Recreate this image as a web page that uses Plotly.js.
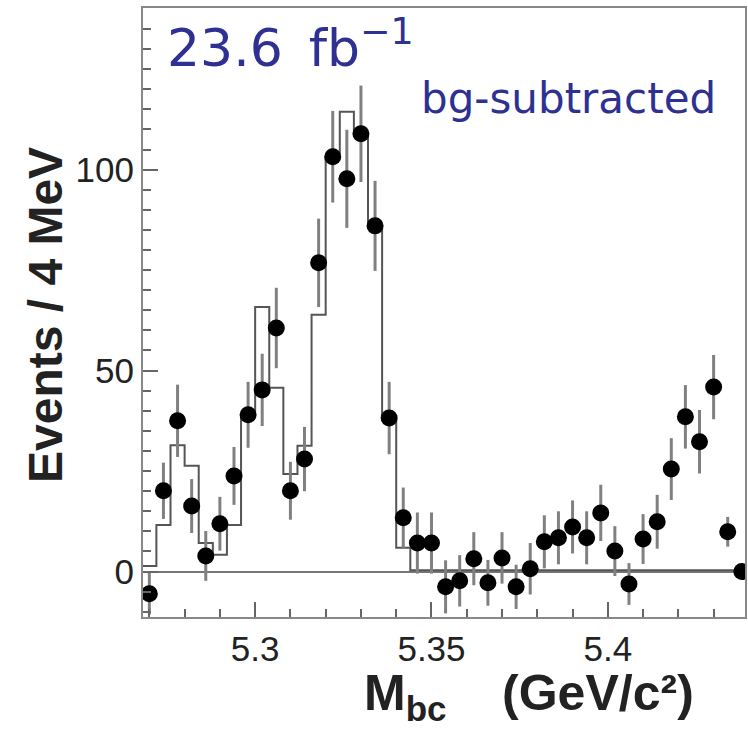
<!DOCTYPE html>
<html>
<head>
<meta charset="utf-8">
<script src="https://cdn.plot.ly/plotly-3.0.1.min.js"></script>
<style>html,body{margin:0;padding:0;background:#fff;}#chart{width:748px;height:734px;}</style>
</head>
<body>
<div id="chart"></div>
<script>
// Bin centres of M_bc (GeV/c^2), 4 MeV bins
const massCenters = [5.270, 5.274, 5.278, 5.282, 5.286, 5.290, 5.294, 5.298, 5.302, 5.306,
  5.310, 5.314, 5.318, 5.322, 5.326, 5.330, 5.334, 5.338, 5.342, 5.346,
  5.350, 5.354, 5.358, 5.362, 5.366, 5.370, 5.374, 5.378, 5.382, 5.386,
  5.390, 5.394, 5.398, 5.402, 5.406, 5.410, 5.414, 5.418, 5.422, 5.426,
  5.430, 5.434, 5.438];
const binWidth = 0.004;

// Background-subtracted data (events / 4 MeV)
const dataEvents = [-5.5, 20.1, 37.5, 16.3, 3.9, 11.9, 23.8, 39.0, 45.2, 60.6,
  20.1, 28.0, 76.8, 103.2, 97.7, 108.9, 86.0, 38.2, 13.4, 7.1,
  7.1, -3.8, -2.3, 3.2, -2.8, 3.4, -3.8, 0.7, 7.4, 8.4,
  11.1, 8.4, 14.6, 5.1, -3.1, 8.1, 12.4, 25.5, 38.5, 32.3,
  45.9, 9.9, 0.0];
const dataErrors = [5.2, 7.0, 9.0, 6.7, 6.2, 6.7, 7.2, 8.2, 9.0, 10.0,
  7.2, 8.0, 11.0, 11.4, 12.2, 12.0, 11.2, 9.0, 7.5, 7.6,
  7.6, 6.6, 6.4, 6.6, 5.7, 6.4, 5.5, 6.4, 6.6, 6.6,
  6.6, 6.6, 7.0, 6.2, 5.2, 6.2, 6.7, 7.7, 7.9, 7.9,
  8.0, 3.7, 2.0];

// Histogram (expectation)
const histValues = [1.4, 11.6, 31.4, 26.3, 7.1, 4.2, 11.6, 39.0, 65.8, 45.7,
  24.3, 31.3, 63.9, 103.2, 114.4, 108.9, 86.0, 37.7, 5.9, 0.3,
  0.3, 0.3, 0.3, 0.3, 0.3, 0.3, 0.3, 0.3, 0.3, 0.3,
  0.3, 0.3, 0.3, 0.3, 0.3, 0.3, 0.3, 0.3, 0.3, 0.3,
  0.3, 0.3, 0.3];

const xTickVals = [5.3, 5.35, 5.4];
const xTickText = ['5.3', '5.35', '5.4'];
const yTickVals = [0, 50, 100];
const yTickText = ['0', '50', '100'];

// step outline built from bin edges
const histX = massCenters.map(c => c - binWidth / 2);
histX.push(massCenters[massCenters.length - 1] + binWidth / 2);
const histY = histValues.slice();
histY.push(histValues[histValues.length - 1]);

const L = 143, R = 745, T = 8, B = 617;
const px = v => (v - L) / (R - L);
const py = v => 1 - (v - T) / (B - T);

const traces = [
  {
    x: histX, y: histY, type: 'scatter', mode: 'lines',
    line: {shape: 'hv', color: '#555', width: 2},
    hoverinfo: 'skip'
  },
  {
    x: massCenters, y: dataEvents, type: 'scatter', mode: 'markers',
    marker: {color: '#000', size: 17},
    error_y: {type: 'data', array: dataErrors, visible: true, color: '#808080', thickness: 3, width: 0}
  }
];

const tickFont = {family: 'Liberation Sans, Arial, sans-serif', size: 35, color: '#222'};
const layout = {
  width: 748, height: 734,
  margin: {l: L, r: 748 - R, t: T, b: 734 - B},
  paper_bgcolor: '#fff', plot_bgcolor: '#fff',
  showlegend: false,
  xaxis: {
    range: [5.2682, 5.4389],
    tickmode: 'array', tickvals: xTickVals, ticktext: xTickText,
    ticks: 'inside', ticklen: 15, tickwidth: 2, tickcolor: '#666',
    showline: true, linecolor: '#888', linewidth: 2, mirror: true,
    showgrid: false, zeroline: false, tickfont: tickFont,
    minor: {tickmode: 'linear', tick0: 5.27, dtick: 0.01, ticks: 'inside', ticklen: 8, tickwidth: 2, tickcolor: '#666', showgrid: false}
  },
  yaxis: {
    range: [-11.3, 140.2],
    tickmode: 'array', tickvals: yTickVals, ticktext: yTickText,
    ticks: 'inside', ticklen: 15, tickwidth: 2, tickcolor: '#666',
    showline: true, linecolor: '#888', linewidth: 2, mirror: true,
    showgrid: false, zeroline: true, zerolinecolor: '#777', zerolinewidth: 2,
    tickfont: tickFont,
    minor: {tickmode: 'linear', tick0: 0, dtick: 5, ticks: 'inside', ticklen: 8, tickwidth: 2, tickcolor: '#666', showgrid: false}
  },
  annotations: [
    {text: '23.6\u2002fb<sup>\u22121</sup>', xref: 'paper', yref: 'paper', x: px(165), y: py(44),
     xanchor: 'left', yanchor: 'middle', showarrow: false,
     font: {family: 'DejaVu Sans, sans-serif', size: 52, color: '#2E3192'}},
    {text: 'bg-subtracted', xref: 'paper', yref: 'paper', x: px(419), y: py(98),
     xanchor: 'left', yanchor: 'middle', showarrow: false,
     font: {family: 'DejaVu Sans, sans-serif', size: 42, color: '#2E3192'}},
    {text: '<b>Events / 4 MeV</b>', xref: 'paper', yref: 'paper', x: px(45), y: py(315),
     xanchor: 'center', yanchor: 'middle', textangle: -90, showarrow: false,
     font: {family: 'Liberation Sans, Arial, sans-serif', size: 48, color: '#222'}},
    {text: '<b>M<sub>bc</sub>\u00a0\u00a0\u00a0\u00a0(GeV/c\u00b2)</b>', xref: 'paper', yref: 'paper', x: px(362), y: py(663),
     xanchor: 'left', yanchor: 'top', showarrow: false,
     font: {family: 'Liberation Sans, Arial, sans-serif', size: 50, color: '#222'}}
  ]
};

Plotly.newPlot('chart', traces, layout, {staticPlot: true, displayModeBar: false});
</script>
</body>
</html>
